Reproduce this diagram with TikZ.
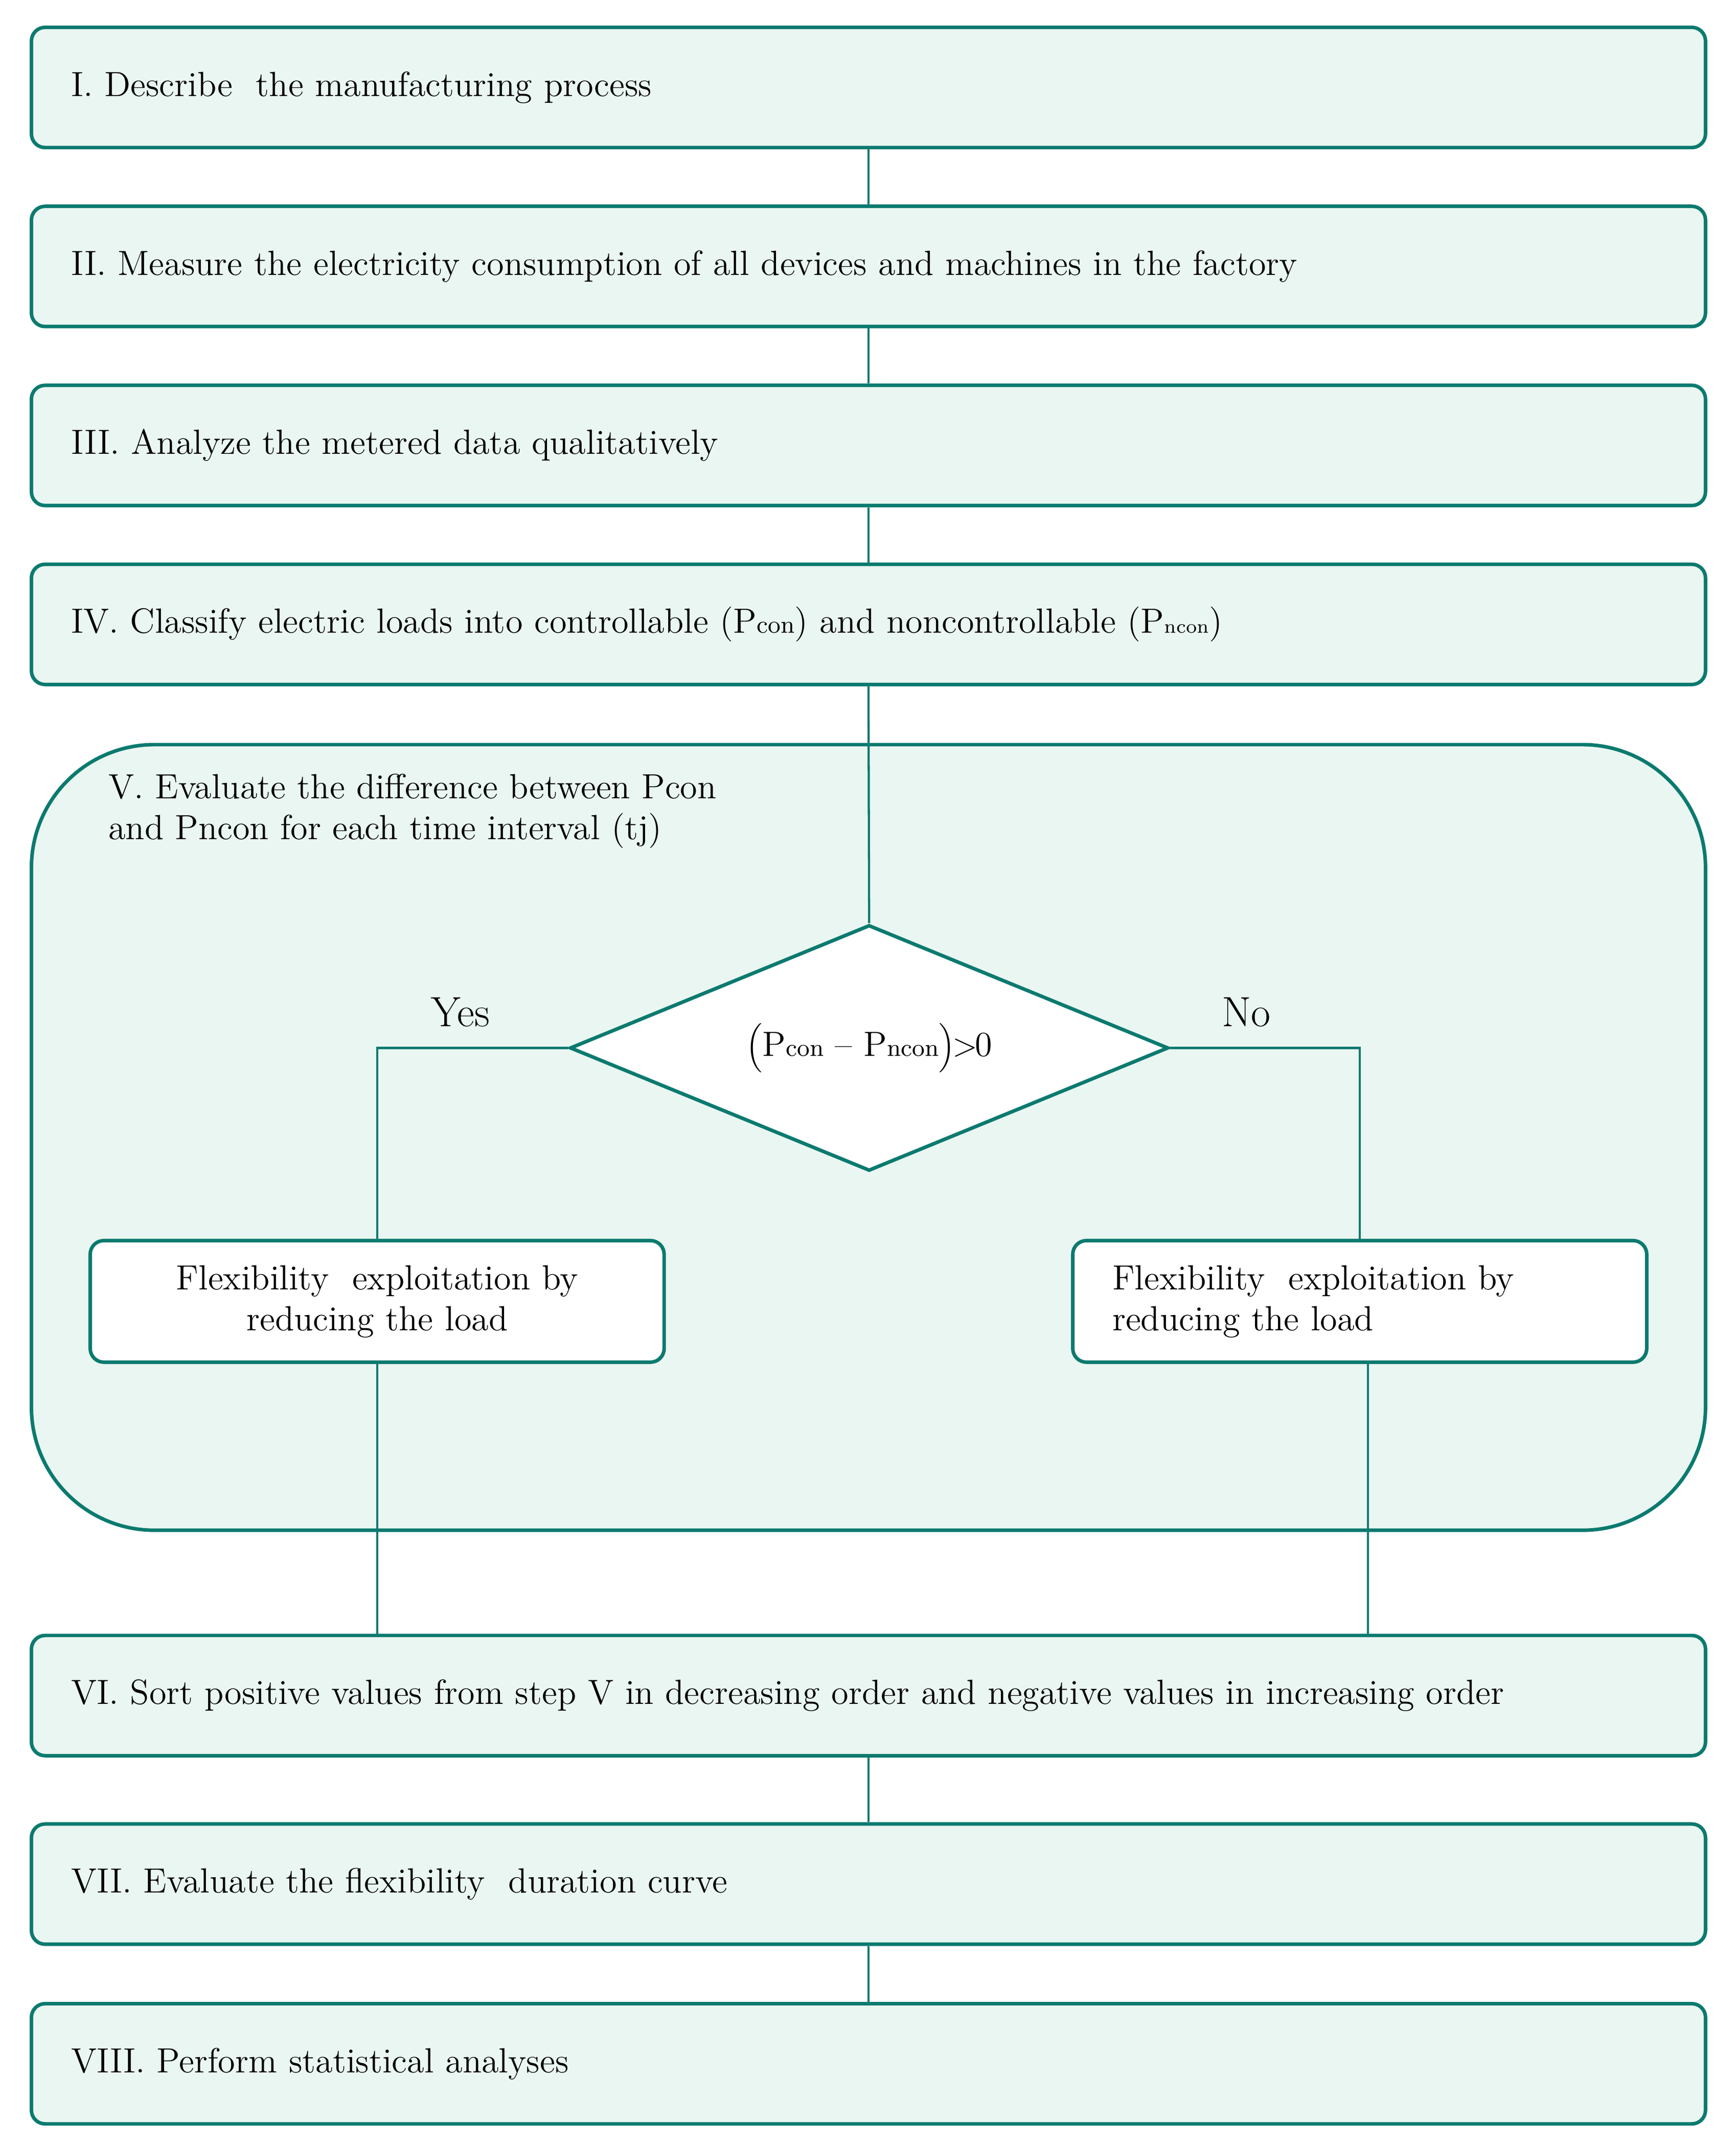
\documentclass[tikz,border=0pt]{standalone}
\usetikzlibrary{shapes.geometric,calc}
\definecolor{tealline}{HTML}{0B7A6F}
\definecolor{lightfill}{HTML}{EAF6F1}
\begin{document}
\begin{tikzpicture}[x=0.5pt,y=-0.5pt,
  font=\fontsize{12.8}{15}\selectfont,
  stepbox/.style={draw=tealline, line width=1.3pt, fill=lightfill, rounded corners=5pt,
    minimum width=612.5pt, minimum height=44pt, text width=583.5pt, inner xsep=14.5pt,
    inner ysep=0pt, align=left},
  flexbox/.style={draw=tealline, line width=1.3pt, fill=white, rounded corners=5pt,
    minimum width=210pt, minimum height=44.5pt, text width=181pt, inner xsep=14.5pt,
    inner ysep=0pt},
  conn/.style={draw=tealline, line width=0.8pt},
  lbl/.style={font=\fontsize{15.5}{18}\selectfont, inner sep=0pt}
]
\useasboundingbox (0,0) rectangle (1270,1570.7);

% container for step V
\node[draw=tealline, line width=1.3pt, fill=lightfill, rounded corners=45pt,
  minimum width=612.5pt, minimum height=287.5pt, inner sep=0pt] (V) at (635.5,832.5) {};
\node[anchor=north west, align=left, inner sep=0pt] (Vlabel) at (79,566)
  {V. Evaluate the difference between Pcon\\and Pncon for each time interval (tj)};

% main steps
\node[stepbox] (s1) at (635.5,64) {I. Describe~ the manufacturing process};
\node[stepbox] (s2) at (635.5,195) {II. Measure the electricity consumption of all devices and machines in the factory};
\node[stepbox] (s3) at (635.5,326) {III. Analyze the metered data qualitatively};
\node[stepbox] (s4) at (635.5,457) {IV. Classify electric loads into controllable (P{\small con}) and noncontrollable (P{\scriptsize ncon})};
\node[stepbox] (s6) at (635.5,1241) {VI. Sort positive values from step V in decreasing order and negative values in increasing order};
\node[stepbox] (s7) at (635.5,1379) {VII. Evaluate the flexibility~ duration curve};
\node[stepbox] (s8) at (635.5,1510.5) {VIII. Perform statistical analyses};

% decision
\node[diamond, draw=tealline, line width=1.3pt, fill=white, aspect=2.43,
  minimum width=219pt, minimum height=90pt, inner sep=0pt] (dia) at (636,767)
  {$\Bigl($P{\small con} -- P{\small ncon}$\Bigr)$\kern-1pt$>$\kern-1pt0};

% flexibility boxes
\node[flexbox, align=center] (lf) at (276,952.5) {Flexibility~ exploitation by\\reducing the load};
\node[flexbox, align=left] (rf) at (995,952.5) {Flexibility~ exploitation by\\reducing the load};

% labels
\node[lbl] (yes) at (337,741) {Yes};
\node[lbl] (no) at (912,741) {No};

% connectors
\draw[conn] (s1.south) -- (s2.north);
\draw[conn] (s2.south) -- (s3.north);
\draw[conn] (s3.south) -- (s4.north);
\draw[conn] (s4.south) -- (dia.north);
\draw[conn] (dia.west) -| (lf.north);
\draw[conn] (dia.east) -| (rf.north);
\draw[conn] (lf.south) -- (lf.south |- s6.north);
\draw[conn] ([xshift=3pt]rf.south) -- ([xshift=3pt]rf.south |- s6.north);
\draw[conn] (s6.south) -- (s7.north);
\draw[conn] (s7.south) -- (s8.north);
\end{tikzpicture}
\end{document}
